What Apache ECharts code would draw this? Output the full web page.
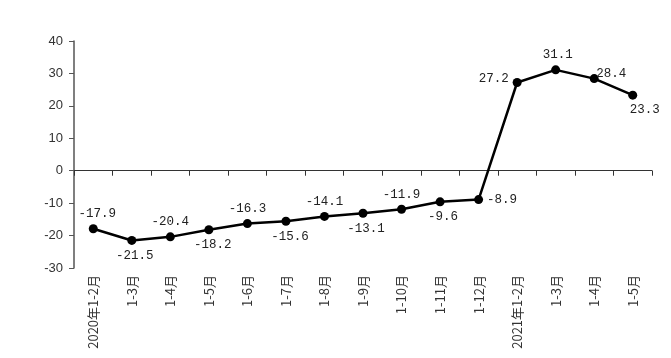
<!DOCTYPE html>
<html><head><meta charset="utf-8">
<script src="https://cdn.jsdelivr.net/npm/echarts@6/dist/echarts.min.js"></script>
<style>html,body{margin:0;padding:0;background:#fff}#c{width:671px;height:358px}</style>
</head><body><div id="c"></div>
<script>
var categories = ['2020年1-2月','1-3月','1-4月','1-5月','1-6月','1-7月','1-8月','1-9月','1-10月','1-11月','1-12月','2021年1-2月','1-3月','1-4月','1-5月'];
var values = [-17.9,-21.5,-20.4,-18.2,-16.3,-15.6,-14.1,-13.1,-11.9,-9.6,-8.9,27.2,31.1,28.4,23.3];
var labelPos = ['top','bottom','top','bottom','top','bottom','top','bottom','top','bottom','right','left','top','top','bottom'];
var labelOffset = [[4,0],[3,0],[0,0],[4,0],[0,0],[4,0],[0,0],[3,0],[0,0],[3,0],[0,0],[0,-4],[2,0],[17,10],[12,0]];
</script>
<script>
var chart = echarts.init(document.getElementById('c'));
var labFont = {fontFamily:'Liberation Mono', fontSize:12.5, color:'#222'};
var data = values.map(function(v,i){
  return {value:v, label:Object.assign({show:true, position:labelPos[i], offset:labelOffset[i], distance:4}, labFont)};
});
chart.setOption({
  animation:false,
  grid:{left:74,right:19,top:41,bottom:90},
  xAxis:[{
    type:'category', data:categories, position:'bottom', boundaryGap:true,
    axisLine:{show:false,onZero:false}, axisTick:{show:false},
    axisLabel:{rotate:90, interval:0, margin:7, fontSize:13, color:'#333', fontFamily:'Noto Sans CJK SC'}
  },{
    type:'category', data:categories, position:'bottom', boundaryGap:true,
    axisLine:{show:true,onZero:true,lineStyle:{color:'#333',width:1}},
    axisTick:{show:true,length:5,interval:0,lineStyle:{color:'#333'}},
    axisLabel:{show:false,interval:0}
  }],
  yAxis:{type:'value', min:-30, max:40, interval:10,
    axisLine:{show:true,lineStyle:{color:'#555',width:1.5}},
    axisTick:{show:true,length:5,lineStyle:{color:'#555'}},
    splitLine:{show:false},
    axisLabel:{margin:11, fontSize:13, color:'#333', fontFamily:'Liberation Sans'}
  },
  series:[{type:'line', xAxisIndex:0, data:data, symbol:'circle', symbolSize:9,
    itemStyle:{color:'#000'}, lineStyle:{color:'#000',width:2.5}}]
});
</script></body></html>
